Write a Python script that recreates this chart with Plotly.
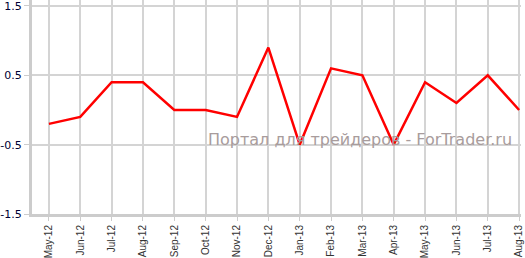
import plotly.graph_objects as go

months = ["May-12", "Jun-12", "Jul-12", "Aug-12", "Sep-12", "Oct-12", "Nov-12", "Dec-12",
          "Jan-13", "Feb-13", "Mar-13", "Apr-13", "May-13", "Jun-13", "Jul-13", "Aug-13"]
values = [-0.2, -0.1, 0.4, 0.4, 0.0, 0.0, -0.1, 0.9,
          -0.5, 0.6, 0.5, -0.5, 0.4, 0.1, 0.5, 0.0]
y_ticks = [-1.5, -0.5, 0.5, 1.5]
watermark = "Портал для трейдеров - ForTrader.ru"

fig = go.Figure()
fig.add_trace(go.Scatter(x=months, y=values, mode="lines",
                         line=dict(color="#ff0000", width=2.5)))

fig.add_annotation(text=watermark, xref="paper", yref="y", x=0.985, y=-0.42,
                   xanchor="right", yanchor="middle", showarrow=False,
                   font=dict(family="DejaVu Sans", size=16, color="#a89c9c"))

fig.update_layout(
    width=525, height=258,
    margin=dict(l=29, r=4, t=0, b=42),
    paper_bgcolor="white", plot_bgcolor="white",
    showlegend=False,
    xaxis=dict(type="category", range=[-0.54, 15.06],
               showgrid=True, gridcolor="#d4d4d4", gridwidth=1.5,
               showline=True, linecolor="#cccccc", linewidth=3,
               ticks="outside", ticklen=4, tickcolor="#cccccc",
               tickangle=-90, tickfont=dict(family="Arial", size=10, color="#333333"),
               zeroline=False),
    yaxis=dict(range=[-1.5, 1.586], tickvals=y_ticks,
               ticktext=["-1.5", "-0.5", "0.5", "1.5"],
               ticklabeloverflow="allow",
               showgrid=True, gridcolor="#d4d4d4", gridwidth=1.5,
               showline=True, linecolor="#cccccc", linewidth=3,
               ticks="outside", ticklen=5, tickcolor="#cccccc",
               tickfont=dict(family="DejaVu Sans", size=11, color="#000033"),
               zeroline=False),
)

fig.write_html("out.html")
